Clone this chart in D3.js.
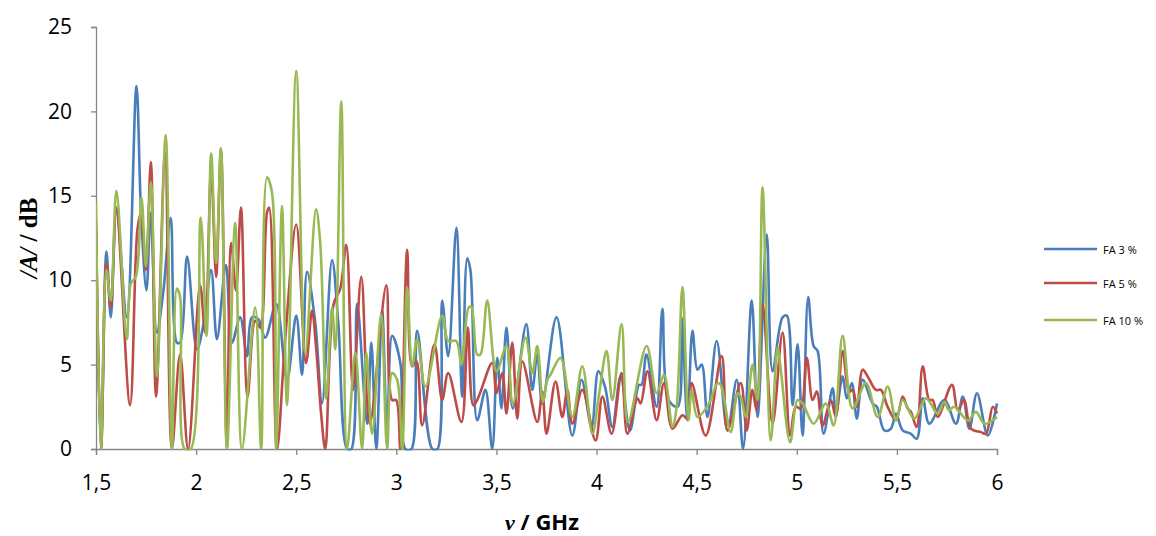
<!DOCTYPE html>
<html>
<head>
<meta charset="utf-8">
<script src="https://cdn.jsdelivr.net/npm/d3@7"></script>
<style>
  html, body { margin: 0; padding: 0; background: #fff; }
  svg { display: block; }
</style>
</head>
<body>
<svg id="chart" width="1156" height="536"></svg>
<script>
// ---------- data (frequency in GHz, |A| in dB) ----------
const seriesNames = ["FA 3 %", "FA 5 %", "FA 10 %"];
const seriesColors = ["#4A7EBB", "#BE4B48", "#98B954"];
const xTicks = [1.5, 2, 2.5, 3, 3.5, 4, 4.5, 5, 5.5, 6];
const yTicks = [0, 5, 10, 15, 20, 25];

const fa3 = [
  [1.500,13.0],[1.525,0],[1.552,11.7],[1.574,7.8],[1.602,14.3],[1.654,7.8],[1.702,21.5],[1.725,14.0],
  [1.752,9.4],[1.773,14.0],[1.804,6.9],[1.835,9.2],[1.873,13.7],[1.904,6.3],[1.920,6.3],[1.955,11.4],
  [2.004,5.9],[2.037,7.4],[2.075,10.6],[2.104,6.5],[2.149,10.9],[2.179,6.3],[2.220,7.8],[2.254,5.5],
  [2.279,7.8],[2.310,7.7],[2.345,6.6],[2.400,8.6],[2.454,4.1],[2.500,7.9],[2.529,4.4],[2.554,10.5],
  [2.595,7.5],[2.629,2.7],[2.679,11.2],[2.710,7.5],[2.755,0],[2.775,0],[2.804,8.6],[2.854,1.5],
  [2.875,6.3],[2.900,0],[2.929,8.2],[2.954,1.1],[2.979,6.7],[3.020,5.1],[3.045,0],[3.075,0],
  [3.104,7.0],[3.180,0],[3.205,0],[3.229,8.8],[3.259,5.5],[3.300,13.1],[3.329,3.1],[3.354,11.3],
  [3.370,10.6],[3.404,1.7],[3.445,3.5],[3.479,0],[3.504,5.4],[3.525,2.4],[3.550,7.2],[3.582,2.4],
  [3.649,7.4],[3.679,3.5],[3.704,5.6],[3.729,2.7],[3.800,7.8],[3.879,0.8],[3.925,4.1],[3.975,1.3],
  [4.009,4.6],[4.042,3.7],[4.079,1.3],[4.120,4.3],[4.167,1.1],[4.212,3.8],[4.225,3.8],[4.249,5.6],
  [4.300,2.5],[4.329,8.3],[4.360,2.9],[4.405,2.5],[4.425,7.8],[4.454,1.7],[4.479,7.0],[4.504,4.7],
  [4.525,5.0],[4.554,1.9],[4.600,6.4],[4.654,1.1],[4.700,4.1],[4.732,0],[4.775,8.8],[4.804,1.9],
  [4.850,12.7],[4.879,4.6],[4.929,7.8],[4.950,7.9],[4.979,2.6],[5.004,6.2],[5.029,0.8],[5.057,9.0],
  [5.084,6.1],[5.104,5.8],[5.134,0.9],[5.179,3.6],[5.195,2.1],[5.229,4.3],[5.250,3.0],[5.275,3.9],
  [5.300,1.8],[5.329,4.1],[5.379,2.7],[5.400,2.5],[5.437,1.1],[5.470,1.2],[5.495,2.1],[5.529,1.1],
  [5.570,0.9],[5.599,0.6],[5.629,3.0],[5.662,1.5],[5.737,2.9],[5.795,1.5],[5.829,3.1],[5.862,1.2],
  [5.900,3.3],[5.954,0.8],[6.000,2.7]
];

const fa5 = [
  [1.500,13.5],[1.525,0],[1.552,11.0],[1.574,8.4],[1.602,14.1],[1.670,2.6],[1.707,13.0],[1.725,14.0],
  [1.749,10.6],[1.774,17.0],[1.800,3.1],[1.845,17.5],[1.879,0],[1.920,5.6],[1.960,0],[2.020,9.7],
  [2.045,6.9],[2.075,16.5],[2.100,10.2],[2.124,17.8],[2.154,0],[2.175,12.2],[2.199,9.4],[2.224,14.3],
  [2.257,3.1],[2.295,7.6],[2.320,7.2],[2.354,14.0],[2.365,14.3],[2.404,0],[2.445,6.5],[2.500,13.3],
  [2.549,5.1],[2.579,8.2],[2.600,5.9],[2.625,2.0],[2.645,0],[2.687,8.6],[2.720,9.5],[2.750,12.1],
  [2.784,3.5],[2.825,10.2],[2.867,1.5],[2.950,9.7],[2.979,2.9],[2.999,2.9],[3.020,0],[3.054,11.8],
  [3.079,4.9],[3.100,5.2],[3.129,1.4],[3.190,6.2],[3.229,2.9],[3.259,4.5],[3.325,1.6],[3.357,7.2],
  [3.384,2.6],[3.404,2.9],[3.479,5.1],[3.500,3.3],[3.529,4.5],[3.550,2.1],[3.579,6.3],[3.604,1.8],
  [3.629,5.2],[3.704,1.6],[3.729,3.4],[3.750,0.9],[3.795,4.0],[3.829,1.9],[3.854,3.5],[3.879,1.5],
  [3.929,3.5],[3.995,0.5],[4.029,3.1],[4.075,0.9],[4.125,4.5],[4.154,0.9],[4.204,3.0],[4.220,2.7],
  [4.254,4.6],[4.300,1.7],[4.337,3.9],[4.379,1.2],[4.429,2.0],[4.454,1.8],[4.475,3.9],[4.545,0.8],
  [4.625,5.5],[4.654,1.1],[4.720,3.9],[4.750,1.1],[4.778,3.5],[4.799,2.3],[4.829,8.6],[4.879,1.5],
  [4.929,6.9],[4.967,0.8],[4.995,2.5],[5.020,2.4],[5.050,5.4],[5.079,2.9],[5.100,3.4],[5.129,1.4],
  [5.170,2.9],[5.195,1.9],[5.229,5.8],[5.262,3.4],[5.280,3.5],[5.300,2.5],[5.329,4.7],[5.354,4.3],
  [5.395,3.5],[5.420,3.5],[5.454,2.5],[5.495,1.7],[5.529,3.1],[5.554,2.4],[5.570,2.2],[5.599,1.3],
  [5.629,4.9],[5.662,2.9],[5.679,2.9],[5.704,1.9],[5.775,3.8],[5.804,2.3],[5.835,2.9],[5.870,1.2],
  [5.920,1.0],[5.945,0.9],[5.979,2.5],[6.000,2.1]
];

const fa10 = [
  [1.500,14.6],[1.524,0],[1.552,10.6],[1.574,8.8],[1.602,15.3],[1.654,6.5],[1.674,9.8],[1.699,10.2],
  [1.727,14.9],[1.749,10.8],[1.774,15.8],[1.804,4.3],[1.848,18.6],[1.879,0],[1.904,9.5],[1.920,9.0],
  [1.943,0],[1.973,0],[2.023,13.7],[2.052,6.7],[2.075,17.5],[2.100,11.0],[2.124,17.8],[2.154,0],
  [2.195,13.4],[2.229,0],[2.295,8.4],[2.325,0],[2.354,16.1],[2.379,15.2],[2.400,0],[2.429,14.4],
  [2.454,2.6],[2.500,22.4],[2.545,5.7],[2.599,14.2],[2.620,12.2],[2.650,3.0],[2.679,8.4],[2.695,5.9],
  [2.725,20.6],[2.754,0],[2.795,5.7],[2.829,0],[2.850,5.7],[2.879,0.9],[2.924,8.0],[2.954,0],
  [2.979,4.5],[3.004,4.1],[3.029,0],[3.054,9.6],[3.079,4.9],[3.104,6.5],[3.145,3.7],[3.229,7.9],
  [3.259,6.4],[3.299,6.4],[3.325,5.0],[3.362,8.4],[3.375,8.4],[3.404,5.6],[3.420,5.6],[3.454,8.8],
  [3.500,4.6],[3.550,6.1],[3.582,2.7],[3.645,6.6],[3.679,4.5],[3.704,6.1],[3.732,2.8],[3.754,4.1],
  [3.770,4.4],[3.820,5.4],[3.879,1.9],[3.929,4.9],[3.979,0.9],[4.012,3.2],[4.050,5.8],[4.079,2.9],
  [4.125,7.4],[4.157,1.6],[4.250,6.1],[4.300,3.3],[4.337,4.4],[4.379,1.3],[4.400,2.5],[4.429,9.6],
  [4.459,1.7],[4.475,3.5],[4.504,1.9],[4.562,2.7],[4.604,3.9],[4.620,3.8],[4.670,1.0],[4.704,3.3],
  [4.720,3.1],[4.745,1.9],[4.779,5.0],[4.804,2.9],[4.829,15.5],[4.870,0.5],[4.904,6.0],[4.920,4.7],
  [4.967,0.4],[5.004,2.9],[5.029,2.7],[5.084,1.5],[5.145,2.7],[5.184,1.4],[5.229,6.7],[5.279,2.4],
  [5.345,3.9],[5.404,1.9],[5.454,3.7],[5.495,1.7],[5.529,2.9],[5.587,1.8],[5.645,3.0],[5.704,2.1],
  [5.737,2.8],[5.760,2.3],[5.787,2.5],[5.854,1.7],[5.895,2.2],[5.937,1.5],[6.000,1.9]
];

const allSeries = [fa3, fa5, fa10];

// ---------- layout ----------
const svg = d3.select("#chart");
const plot = { left: 96, right: 997, top: 27, bottom: 449 };
const axisColor = "#868686";
const tickFont = "'Open Sans', 'Liberation Sans', sans-serif";

const x = d3.scaleLinear().domain([1.5, 6]).range([plot.left, plot.right]);
const y = d3.scaleLinear().domain([0, 25]).range([plot.bottom, plot.top]);

svg.append("defs").append("clipPath").attr("id", "plotclip")
  .append("rect")
  .attr("x", plot.left).attr("y", 0)
  .attr("width", plot.right - plot.left + 2)
  .attr("height", plot.bottom + 1.5);

// axes
const fmt = d => String(d).replace(".", ",");
const xAxis = d3.axisBottom(x).tickValues(xTicks).tickFormat(fmt).tickSize(6).tickPadding(20);
const yAxis = d3.axisLeft(y).tickValues(yTicks).tickFormat(fmt).tickSize(5).tickPadding(19);

const gx = svg.append("g").attr("transform", `translate(0,${plot.bottom})`).call(xAxis);
const gy = svg.append("g").attr("transform", `translate(${plot.left},0)`).call(yAxis);

[gx, gy].forEach(g => {
  g.select(".domain").attr("stroke", axisColor).attr("stroke-width", 1.3);
  g.selectAll(".tick line").attr("stroke", axisColor).attr("stroke-width", 1.3);
  g.selectAll(".tick text").attr("fill", "#000")
    .style("font-family", tickFont).style("font-size", "21px");
});

// lines
const line = d3.line()
  .x(d => x(d[0]))
  .y(d => y(d[1]))
  .curve(d3.curveCatmullRom.alpha(0.5));

const gLines = svg.append("g").attr("clip-path", "url(#plotclip)");
allSeries.forEach((s, i) => {
  gLines.append("path")
    .datum(s)
    .attr("fill", "none")
    .attr("stroke", seriesColors[i])
    .attr("stroke-width", 2.6)
    .attr("stroke-linejoin", "round")
    .attr("d", line);
});

// axis titles
const xt = svg.append("text")
  .attr("x", 542).attr("y", 530)
  .attr("text-anchor", "middle")
  .style("font-size", "22px").style("font-weight", "bold");
xt.append("tspan").text("ν")
  .style("font-family", "'Liberation Serif', serif").style("font-style", "italic");
xt.append("tspan").text(" / GHz")
  .style("font-family", "'Open Sans', 'Liberation Sans', sans-serif");

const yt = svg.append("text")
  .attr("transform", "translate(37,238) rotate(-90)")
  .attr("text-anchor", "middle")
  .style("font-family", "'Liberation Serif', serif")
  .style("font-size", "25px").style("font-weight", "bold");
yt.append("tspan").text("/A/").style("font-style", "italic");
yt.append("tspan").text(" / dB");

// legend
const legendY = [249, 283, 320];
const lg = svg.append("g");
seriesNames.forEach((name, i) => {
  lg.append("line")
    .attr("x1", 1044).attr("x2", 1097)
    .attr("y1", legendY[i]).attr("y2", legendY[i])
    .attr("stroke", seriesColors[i]).attr("stroke-width", 2.6);
  lg.append("text")
    .attr("x", 1103).attr("y", legendY[i] + 4.5)
    .style("font-family", tickFont).style("font-size", "11px")
    .attr("fill", "#000")
    .text(name);
});
</script>
</body>
</html>
